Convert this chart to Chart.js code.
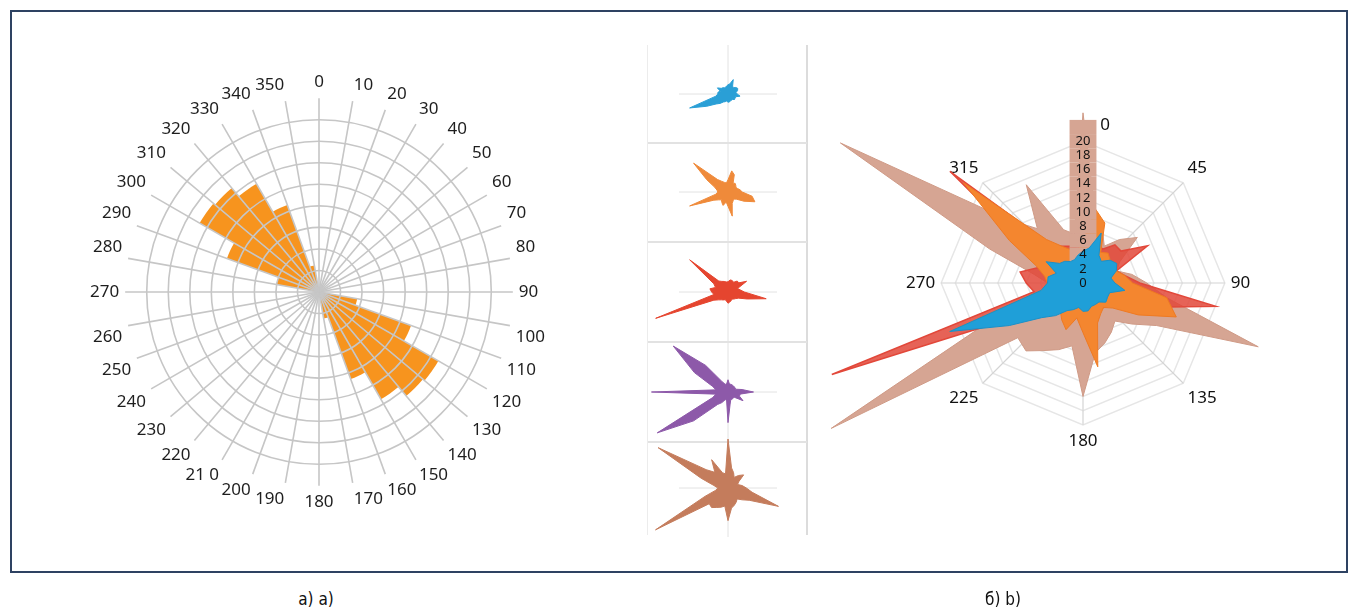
<!DOCTYPE html>
<html>
<head>
<meta charset="utf-8">
<script src="https://cdn.jsdelivr.net/npm/chart.js@4.4.0/dist/chart.umd.min.js"></script>
<style>
  html, body { margin: 0; padding: 0; background: #fff; }
  body { width: 1358px; height: 610px; position: relative; overflow: hidden; font-family: 'Noto Sans', sans-serif; }
  canvas, .abs { position: absolute; }
  #frame { left: 10px; top: 10px; width: 1338px; height: 563px; border: 2px solid #2e4262; box-sizing: border-box; }
  #thumbs { left: 647px; top: 45px; width: 161px; height: 490px; border-left: 1px solid #ececec; border-right: 2px solid #dcdcdc; box-sizing: border-box; }
  .sep { left: 648px; width: 159px; height: 0; border-top: 2px solid #e2e2e2; }
  .cap { top: 589px; width: 120px; text-align: center; font-family: 'Liberation Sans Narrow', 'DejaVu Sans Condensed', sans-serif; font-size: 17px; color: #111; }
</style>
</head>
<body>
<div id="frame" class="abs"></div>
<div id="thumbs" class="abs"></div>
<div class="abs sep" style="top:142px"></div>
<div class="abs sep" style="top:241px"></div>
<div class="abs sep" style="top:341px"></div>
<div class="abs sep" style="top:441px"></div>

<canvas id="rose" width="458" height="458" style="left:89px; top:63px"></canvas>

<canvas id="t0" width="160" height="98" style="left:648px; top:45px"></canvas>
<canvas id="t1" width="160" height="98" style="left:648px; top:143px"></canvas>
<canvas id="t2" width="160" height="98" style="left:648px; top:243px"></canvas>
<canvas id="t3" width="160" height="98" style="left:648px; top:343px"></canvas>
<canvas id="t4" width="160" height="98" style="left:648px; top:439px"></canvas>

<canvas id="radarGrid" width="354" height="354" style="left:902px; top:106px"></canvas>
<canvas id="radarBack" width="640" height="640" style="left:763px; top:-37px"></canvas>
<canvas id="radarFront" width="640" height="640" style="left:763px; top:-37px"></canvas>

<div class="abs cap" style="left:256px">а) a)</div>
<div class="abs cap" style="left:943px">б) b)</div>

<script>
// a) rose diagram, 36 sectors of 10 degrees
var roseLabels = ['0','10','20','30','40','50','60','70','80','90','100','110','120','130','140','150','160','170',
                  '180','190','200','21 0','220','230','240','250','260','270','280','290','300','310','320','330','340','350'];
var roseValues = [0, 0, 0, 0, 0, 0, 0, 0, 0, 0, 1.8, 4.55, 6.4, 6.3, 5.75, 4.3, 1.25, 0,
                  0, 0, 0, 0, 0, 0, 0, 0, 0, 0, 2.0, 4.55, 6.4, 6.3, 5.8, 4.3, 1.25, 0];

// b) radar, directions every 10 degrees
var dirs = ['0','10','20','30','40','50','60','70','80','90','100','110','120','130','140','150','160','170',
            '180','190','200','210','220','230','240','250','260','270','280','290','300','310','320','330','340','350'];
var compassLabels = ['          0', '45', '90', '135', '180', '225', '270', '315'];

var blueValues = [4.5, 5, 7.5, 4.5, 4, 5, 5.5, 5, 4, 4.5, 6, 4, 4, 4.2, 3.5, 3.5, 3.5, 4,
                  4, 3.5, 4, 4.5, 6, 7.6, 12, 20, 6, 5, 5, 4, 6, 4.3, 4, 3.5, 3.5, 4];
var orangeValues = [6, 10.5, 9, 5, 5.5, 5, 4.5, 5, 6, 7, 12, 14, 9, 5.5, 4.5, 5, 6, 12,
                    7, 5, 7, 6, 5, 6, 8, 20, 6, 5, 5.5, 7, 12, 22, 8, 6, 5, 4.5];
var redValues = [5, 6, 6, 5.5, 7, 7, 10.5, 5, 6, 8, 19, 10, 6, 5, 4.5, 4, 4.5, 5,
                 5.5, 4.5, 4, 4.5, 5, 6, 8, 37.7, 7, 8, 9, 6.5, 8, 24.5, 7, 6, 5.5, 5];
var purpleValues = [6, 4, 4, 4, 4, 4, 4, 4, 7, 12.5, 6, 6, 8.5, 4, 4, 4, 4, 6,
                    15, 4, 4, 6, 8, 22, 40, 8, 6, 37.5, 6, 8, 19, 35, 17, 6, 4, 4];
var brownValues = [24, 10, 8, 6, 8, 10, 6, 5, 7, 9, 12, 26.3, 12, 9, 7, 8, 9, 10,
                   16, 9, 10, 11, 12.5, 12, 41, 12, 6, 5, 7, 14, 39.5, 14, 10, 16, 8, 7];

var colBlue = '#1f9fd8', colOrange = '#f4862f', colRed = '#e2483a', colPurple = '#8d59a9', colBrown = '#d6a593';

var noPlugins = { legend: { display: false }, tooltip: { enabled: false } };

new Chart(document.getElementById('rose'), {
    type: 'polarArea',
    data: {
        labels: roseLabels,
        datasets: [{ data: roseValues, backgroundColor: '#f7941e', borderWidth: 0 }]
    },
    options: {
        responsive: false,
        animation: false,
        plugins: noPlugins,
        scales: {
            r: {
                min: 0, max: 9, startAngle: 0,
                ticks: { display: false, stepSize: 1 },
                // outermost tick only sets the length of the spokes; grid sits on top of the bars
                grid: { z: 1, circular: true, lineWidth: 1.6, color: function (c) { return c.index === 9 ? 'rgba(0,0,0,0)' : '#c6c6c6'; } },
                angleLines: { display: true, color: '#c6c6c6', lineWidth: 1.6 },
                pointLabels: { display: true, padding: 6, color: '#1e1e1e', font: { family: 'Noto Sans', size: 17 } }
            }
        }
    }
});

// small single-series panels
var thumbSeries = [[blueValues, '#2a9fd6'], [orangeValues, '#ef8a3a'], [redValues, '#e5452f'], [purpleValues, colPurple], [brownValues, '#c47c5c']];
thumbSeries.forEach(function (s, i) {
    new Chart(document.getElementById('t' + i), {
        type: 'radar',
        data: { labels: dirs, datasets: [{ data: s[0], backgroundColor: s[1], borderColor: s[1], borderWidth: 1, pointRadius: 0, clip: false }] },
        options: {
            responsive: false,
            animation: false,
            plugins: noPlugins,
            scales: {
                r: {
                    min: 0, max: 24,
                    ticks: { display: false },
                    grid: { display: false },
                    angleLines: { color: function (c) { return c.index % 9 === 0 ? '#e2e2e2' : 'rgba(0,0,0,0)'; }, lineWidth: 1 },
                    pointLabels: { display: false }
                }
            }
        }
    });
});

// big radar: octagon grid underneath
new Chart(document.getElementById('radarGrid'), {
    type: 'radar',
    data: { labels: compassLabels, datasets: [] },
    options: {
        responsive: false,
        animation: false,
        plugins: noPlugins,
        scales: {
            r: {
                min: 0, max: 20,
                ticks: { display: false, stepSize: 2 },
                grid: { color: '#e6e6e6', lineWidth: 1.5 },
                angleLines: { color: '#d4d4d4', lineWidth: 1.2 },
                pointLabels: { padding: 6, color: '#111', font: { family: 'Noto Sans', size: 17 } }
            }
        }
    }
});

// back layer: invisible same-width labels whose backdrops form the brown column (ticks 0..22 only)
// front layer: the real tick labels, on top of the blue series
function radarScale(front) {
    return {
        min: -0.001, max: 44,
        grid: { display: false },
        angleLines: { display: false },
        pointLabels: { display: false },
        ticks: {
            z: 1,
            stepSize: 2,
            color: front ? '#111' : 'rgba(0,0,0,0)',
            font: { family: 'Noto Sans', size: 13 },
            showLabelBackdrop: !front,
            backdropColor: function (c) { return c.index > 11 ? 'rgba(0,0,0,0)' : colBrown; },
            backdropPadding: { top: 0.6, bottom: 0.6, left: 6, right: 6 },
            callback: function (v) {
                if (v > 23) return '';
                if (!front) return '00';
                return v > 21 ? '' : String(Math.abs(Math.round(v)));
            }
        }
    };
}

new Chart(document.getElementById('radarBack'), {
    type: 'radar',
    data: {
        labels: dirs,
        datasets: [
            { data: orangeValues, backgroundColor: colOrange, borderColor: '#ef7a22', borderWidth: 1, pointRadius: 0, clip: false },
            { data: redValues, backgroundColor: 'rgba(226,72,58,0.85)', borderColor: colRed, borderWidth: 1.5, pointRadius: 0, clip: false },
            { data: brownValues, backgroundColor: colBrown, borderColor: '#cf9a86', borderWidth: 1, pointRadius: 0, clip: false }
        ]
    },
    options: { responsive: false, animation: false, plugins: noPlugins, scales: { r: radarScale(false) } }
});

new Chart(document.getElementById('radarFront'), {
    type: 'radar',
    data: {
        labels: dirs,
        datasets: [{ data: blueValues, backgroundColor: colBlue, borderColor: '#1a90c8', borderWidth: 1, pointRadius: 0, clip: false }]
    },
    options: { responsive: false, animation: false, plugins: noPlugins, scales: { r: radarScale(true) } }
});
</script>
</body>
</html>
